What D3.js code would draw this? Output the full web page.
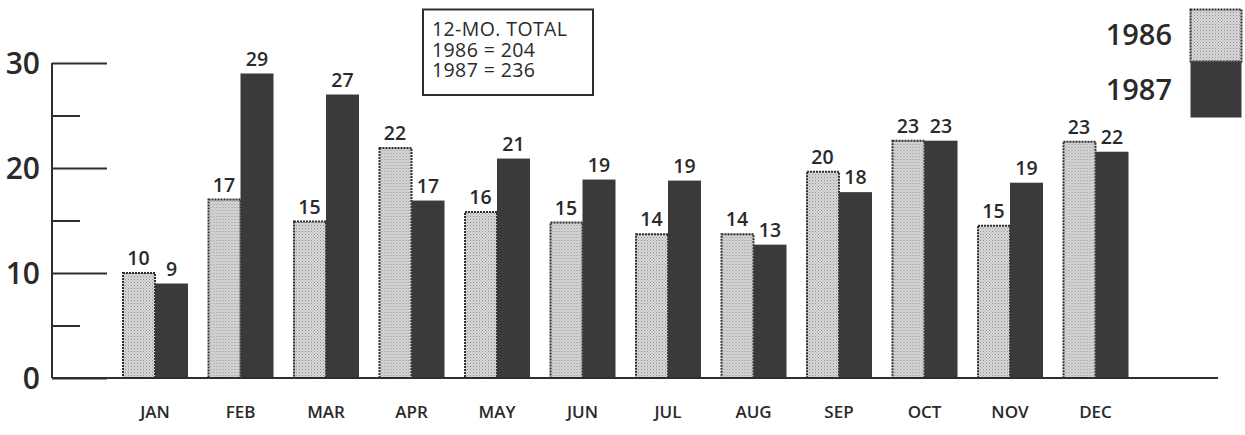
<!DOCTYPE html>
<html>
<head>
<meta charset="utf-8">
<script src="https://cdn.jsdelivr.net/npm/d3@7"></script>
<style>
  html, body { margin: 0; padding: 0; background: #fff; }
  svg { display: block; }
  text { font-family: "Open Sans", "Noto Sans", sans-serif; fill: #2a2a2a; }
</style>
</head>
<body>
<div id="chart"></div>
<script>
// ---- data ----
const months = ["JAN","FEB","MAR","APR","MAY","JUN","JUL","AUG","SEP","OCT","NOV","DEC"];
const seriesNames = ["1986","1987"];
const values1986 = [10.0, 17.0, 14.9, 21.9, 15.8, 14.8, 13.7, 13.7, 19.65, 22.6, 14.5, 22.5];
const values1987 = [9.0, 29.0, 27.0, 16.9, 20.9, 18.9, 18.8, 12.7, 17.7, 22.6, 18.6, 21.55];
const labels1986 = [10, 17, 15, 22, 16, 15, 14, 14, 20, 23, 15, 23];
const labels1987 = [9, 29, 27, 17, 21, 19, 19, 13, 18, 23, 19, 22];
const majorTicks = [0, 10, 20, 30];
const minorTicks = [5, 15, 25];
const totalsText = ["12-MO. TOTAL", "1986 = 204", "1987 = 236"];

const W = 1245, H = 435;
const svg = d3.select("#chart").append("svg").attr("width", W).attr("height", H);

// stipple pattern for 1986
const defs = svg.append("defs");
const pat = defs.append("pattern").attr("id", "stip").attr("patternUnits", "userSpaceOnUse")
  .attr("width", 3).attr("height", 3);
pat.append("rect").attr("width", 3).attr("height", 3).attr("fill", "#d8d8d8");
pat.append("rect").attr("x", 0).attr("y", 0).attr("width", 1).attr("height", 1).attr("fill", "#909090");
pat.append("rect").attr("x", 1.5).attr("y", 1.5).attr("width", 1).attr("height", 1).attr("fill", "#a8a8a8");

const colors = { "1986": "url(#stip)", "1987": "#3a3a3a" };
const dark = "#2e2e2e";
const FONT = '"Open Sans", "Noto Sans", sans-serif';

// scales
const y = d3.scaleLinear().domain([0, 30]).range([378, 63]);
const x0 = d3.scaleBand().domain(months).range([112.25, 1138.25]).paddingInner(0.228).paddingOuter(0.114);
const x1 = d3.scaleBand().domain(seriesNames).range([0, x0.bandwidth()]);

// y axis (line + major/minor ticks)
const axisX = 52;
svg.append("g").attr("transform", `translate(${axisX},0)`)
  .call(d3.axisRight(y).tickValues(majorTicks).tickSize(55).tickFormat(""))
  .call(g => g.select(".domain").remove())
  .call(g => g.selectAll("line").attr("stroke", dark).attr("stroke-width", 2));
svg.append("g").attr("transform", `translate(${axisX},0)`)
  .call(d3.axisRight(y).tickValues(minorTicks).tickSize(28).tickFormat(""))
  .call(g => g.select(".domain").remove())
  .call(g => g.selectAll("line").attr("stroke", dark).attr("stroke-width", 2));
svg.append("line").attr("x1", axisX).attr("x2", axisX).attr("y1", y(30)).attr("y2", y(0))
  .attr("stroke", dark).attr("stroke-width", 2);

svg.selectAll("text.ylab").data(majorTicks).enter().append("text")
  .attr("class", "ylab")
  .attr("x", 40).attr("y", d => y(d)).attr("dy", "0.35em")
  .attr("text-anchor", "end").attr("font-size", 30).attr("font-weight", 600)
  .text(d => d);

// bars
const data = months.map((m, i) => ({
  month: m,
  vals: [
    { s: "1986", v: values1986[i], l: labels1986[i] },
    { s: "1987", v: values1987[i], l: labels1987[i] }
  ]
}));

const groups = svg.selectAll("g.grp").data(data).enter().append("g")
  .attr("class", "grp").attr("transform", d => `translate(${x0(d.month)},0)`);

groups.selectAll("rect").data(d => d.vals).enter().append("rect")
  .attr("x", d => x1(d.s) + (d.s === "1986" ? 1 : 0))
  .attr("y", d => y(d.v))
  .attr("width", d => x1.bandwidth() - (d.s === "1986" ? 1 : 0))
  .attr("height", d => y(0) - y(d.v))
  .attr("fill", d => colors[d.s])
  .attr("stroke", d => d.s === "1986" ? dark : "none")
  .attr("stroke-width", 2)
  .attr("stroke-dasharray", d => d.s === "1986" ? "2,1" : null);

groups.selectAll("text").data(d => d.vals).enter().append("text")
  .attr("x", d => x1(d.s) + x1.bandwidth() / 2)
  .attr("y", d => y(d.v) - 8)
  .attr("text-anchor", "middle").attr("font-size", 19.5).attr("font-weight", 600)
  .text(d => d.l);

// baseline
svg.append("line").attr("x1", axisX).attr("x2", 1218).attr("y1", y(0)).attr("y2", y(0))
  .attr("stroke", dark).attr("stroke-width", 2);

// month labels
svg.append("g").attr("transform", `translate(0,${y(0)})`)
  .attr("font-size", 17).attr("font-family", FONT)
  .call(d3.axisBottom(x0).tickSize(0).tickPadding(0))
  .call(g => g.attr("font-size", 17).attr("font-family", FONT))
  .call(g => g.select(".domain").remove())
  .call(g => g.selectAll("text").attr("y", 40).attr("dy", 0)
    .attr("font-size", 17).attr("font-weight", 600)
    .style("font-family", FONT).attr("fill", "#2a2a2a"));

// totals box
svg.append("rect").attr("x", 423).attr("y", 9.5).attr("width", 170).attr("height", 85.5)
  .attr("fill", "#fff").attr("stroke", dark).attr("stroke-width", 2);
const tot = svg.append("text").attr("x", 432).attr("y", 36)
  .attr("font-size", 19.5).attr("font-weight", 500).attr("letter-spacing", 0.4);
tot.selectAll("tspan").data(totalsText).enter().append("tspan")
  .attr("x", 432).attr("dy", (d, i) => i === 0 ? 0 : 20.5)
  .text(d => d);

// legend
const legTop = 9.5, legH = [52, 56];
const lg = svg.append("g");
seriesNames.forEach((s, i) => {
  const top = i === 0 ? legTop : legTop + legH[0];
  lg.append("rect").attr("x", 1190.5).attr("y", top).attr("width", 51).attr("height", legH[i])
    .attr("fill", colors[s])
    .attr("stroke", s === "1986" ? dark : "none").attr("stroke-width", 2)
    .attr("stroke-dasharray", s === "1986" ? "2,1" : null);
  lg.append("text").attr("x", 1172).attr("y", top + legH[i] / 2 - (i === 0 ? 1 : 0))
    .attr("dy", "0.36em").attr("text-anchor", "end")
    .attr("font-size", 29).attr("font-weight", 600).text(s);
});
</script>
</body>
</html>
